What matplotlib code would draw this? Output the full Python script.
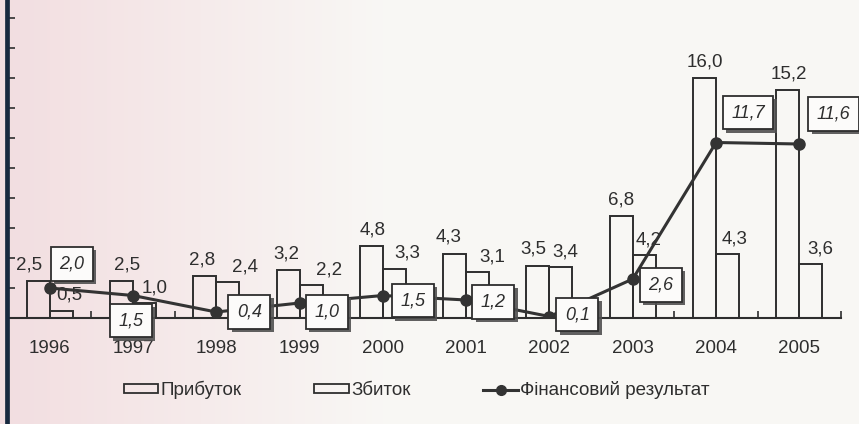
import numpy as np
import matplotlib
matplotlib.use('Agg')
import matplotlib.pyplot as plt
from matplotlib import patheffects
from matplotlib.lines import Line2D
from matplotlib.patches import Rectangle

# ── DATA ─────────────────────────────────────────────────────────────────────
YEARS  = ['1996', '1997', '1998', '1999', '2000', '2001', '2002', '2003', '2004', '2005']
PROFIT = [2.5, 2.5, 2.8, 3.2, 4.8, 4.3, 3.5, 6.8, 16.0, 15.2]   # Прибуток
LOSS   = [0.5, 1.0, 2.4, 2.2, 3.3, 3.1, 3.4, 4.2, 4.3, 3.6]    # Збиток
RESULT = [2.0, 1.5, 0.4, 1.0, 1.5, 1.2, 0.1, 2.6, 11.7, 11.6]  # Фінансовий результат

# ── LABEL PLACEMENT (pixels) ─────────────────────────────────────────────────
BOX_OFF   = [(22, 24), (-2, -25), (33, 0), (27, -9), (30, -5),
             (27, -2), (28, 2), (28, -6), (32, 30), (34, 30)]
PROFIT_DX = [-9, 6, -3, -2, 1, -6, -5, 0, 0, 1]
LOSS_DX   = [8, 10, 17, 18, 13, 15, 4, 4, 7, 9]

INK = '#2e2e2e'
FS = 13.5
plt.rcParams['font.family'] = ['Liberation Sans', 'DejaVu Sans']


def fmt(v):
    return f"{v:.1f}".replace('.', ',')


fig = plt.figure(figsize=(8.59, 4.24), dpi=100)

# scanned-paper background: pink tint on the left fading to white
bg = fig.add_axes([0, 0, 1, 1], zorder=-5)
grad = np.linspace(0, 1, 256)
c0 = np.array([0.95, 0.87, 0.88])
c1 = np.array([0.975, 0.97, 0.96])
w = np.clip(grad / 0.45, 0, 1)[None, :, None]
img = c0 * (1 - w) + c1 * w
bg.imshow(img, aspect='auto', extent=[0, 1, 0, 1])
bg.axis('off')

ax = fig.add_axes([8 / 859, 106 / 424, (841 - 8) / 859, 318 / 424])
ax.set_facecolor('none')

x = np.arange(len(YEARS))
bw = 0.276
ax.bar(x - bw / 2, PROFIT, bw, facecolor='none', edgecolor=INK, lw=1.4, zorder=2)
ax.bar(x + bw / 2, LOSS, bw, facecolor='none', edgecolor=INK, lw=1.4, zorder=2)

ax.plot(x, RESULT, color='#333333', lw=2.2, marker='o', ms=8, zorder=4)

for i in range(len(YEARS)):
    ax.annotate(fmt(PROFIT[i]), (x[i] - bw / 2, PROFIT[i]),
                xytext=(PROFIT_DX[i], 16), textcoords='offset pixels',
                ha='center', va='center', fontsize=FS, color=INK, zorder=3)
    ax.annotate(fmt(LOSS[i]), (x[i] + bw / 2, LOSS[i]),
                xytext=(LOSS_DX[i], 15), textcoords='offset pixels',
                ha='center', va='center', fontsize=FS, color=INK, zorder=3)
    dx, dy = BOX_OFF[i]
    ann = ax.annotate(fmt(RESULT[i]), (x[i], RESULT[i]),
                      xytext=(dx, dy), textcoords='offset pixels',
                      ha='center', va='center', fontsize=13, style='italic',
                      color=INK, zorder=6,
                      bbox=dict(boxstyle='square,pad=0.47', fc='#fcfbfa',
                                ec=INK, lw=1.3))
    ann.get_bbox_patch().set_path_effects(
        [patheffects.withSimplePatchShadow(offset=(2.5, -2.5),
                                           shadow_rgbFace='#505050', alpha=0.9)])

ax.set_xlim(-0.5, 9.5)
ax.set_ylim(0, 318 / 15)
ax.set_yticks(np.arange(2, 21, 2))
ax.set_yticklabels([])
ax.tick_params(axis='y', direction='in', length=5, width=1.2, color=INK)
ax.set_xticks(x)
ax.set_xticklabels(YEARS, fontsize=FS, color=INK)
ax.set_xticks(np.arange(0.5, 9.6, 1), minor=True)
ax.tick_params(axis='x', which='major', length=0, pad=16)
ax.tick_params(axis='x', which='minor', direction='in', length=5, width=1.2, color=INK)
for s in ['top', 'right', 'left']:
    ax.spines[s].set_visible(False)
ax.spines['bottom'].set_color(INK)
ax.spines['bottom'].set_linewidth(1.5)

# dark scan edge running the full height
fig.add_artist(Line2D([6.5 / 859, 6.5 / 859], [0, 1], color='#18293f', lw=3.4))

handles = [
    Rectangle((0, 0), 1, 1, fc='none', ec=INK, lw=1.3),
    Rectangle((0, 0), 1, 1, fc='none', ec=INK, lw=1.3),
    Line2D([], [], color='#333333', lw=2.2, marker='o', ms=7),
]
fig.legend(handles, ['Прибуток', 'Збиток', 'Фінансовий результат'],
           loc='center', bbox_to_anchor=(0.485, 0.08), ncol=3, frameon=False,
           fontsize=FS, handlelength=1.85, handleheight=0.4, handletextpad=0.1,
           columnspacing=3.9, labelcolor=INK)

fig.savefig('out.png', dpi=100)
